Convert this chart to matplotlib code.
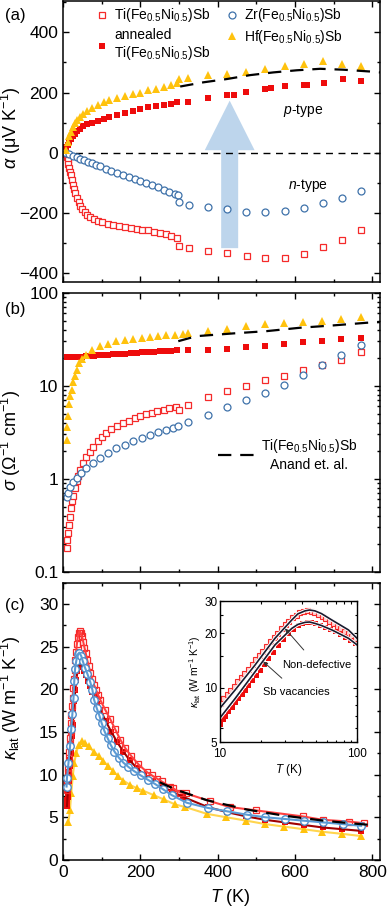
import numpy as np
import matplotlib
matplotlib.use("Agg")
import matplotlib.pyplot as plt
from matplotlib.ticker import MultipleLocator, FixedLocator, NullFormatter, LogLocator

plt.rcParams["font.family"] = ["Liberation Sans", "DejaVu Sans"]
plt.rcParams["mathtext.fontset"] = "custom"
plt.rcParams["mathtext.rm"] = "Liberation Sans"
plt.rcParams["mathtext.it"] = "Liberation Sans:italic"
plt.rcParams["mathtext.bf"] = "Liberation Sans:bold"

RED_OPEN = "#f52a2a"
RED = "#ee0c0c"
DARK_RED = "#a00000"
BLUE = "#3f72aa"
BLUE_C = "#4f8cc9"
BLUE_LINE = "#5b9bd5"
YELLOW = "#ffc20e"
YELLOW_LINE = "#ffd54f"

LBL_TI = r"Ti(Fe$_{0.5}$Ni$_{0.5}$)Sb"
LBL_ANN = "annealed\n" + r"Ti(Fe$_{0.5}$Ni$_{0.5}$)Sb"
LBL_ZR = r"Zr(Fe$_{0.5}$Ni$_{0.5}$)Sb"
LBL_HF = r"Hf(Fe$_{0.5}$Ni$_{0.5}$)Sb"

# ---------------- (a) Seebeck coefficient ----------------
a_ti_T = [8, 10, 12, 14, 16, 18, 20, 23, 26, 29, 32, 36, 40, 45, 50, 56, 63, 70, 80, 90,
          100, 115, 130, 145, 160, 175, 190, 205, 220, 235, 250, 265, 280, 295,
          300, 325, 375, 425, 475, 523, 575, 622, 672, 721, 771]
a_ti = [-5, -15, -25, -38, -52, -64, -75, -92, -108, -122, -135, -150, -163, -177, -188, -198,
        -207, -214, -222, -228, -232, -237, -240, -243, -247, -250, -253, -256, -259, -263,
        -267, -272, -277, -284,
        -311, -319, -326, -333, -344, -350, -350, -338, -313, -291, -258]

a_ann_T = [8, 12, 16, 20, 25, 30, 36, 43, 52, 62, 75, 90, 105, 120, 140, 160, 180, 200, 220,
           240, 260, 280, 295,
           324, 374, 424, 443, 474, 523, 537, 575, 622, 631, 674, 723, 771]
a_ann = [18, 25, 35, 45, 55, 63, 72, 80, 88, 94, 100, 106, 112, 118, 126, 133, 140, 146, 151,
         155, 159, 163, 167,
         168, 182, 193, 193, 203, 212, 216, 221, 225, 225, 232, 245, 237]

a_zr_T = [8, 15, 25, 35, 45, 55, 65, 75, 85, 95, 110, 125, 140, 155, 170, 185, 200, 215, 230,
          245, 260, 275, 290, 298,
          300, 325, 374, 424, 474, 523, 575, 622, 672, 721, 771]
a_zr = [-2, -6, -11, -16, -21, -26, -31, -36, -41, -46, -53, -60, -67, -74, -81, -88, -95,
        -102, -109, -116, -123, -130, -137, -141,
        -164, -175, -180, -188, -197, -199, -195, -184, -167, -150, -128]

a_hf_T = [8, 12, 16, 20, 25, 30, 36, 43, 52, 62, 75, 90, 105, 120, 140, 160, 180, 200, 220,
          240, 260, 280, 295,
          300, 324, 374, 424, 474, 523, 575, 622, 672, 722, 771]
a_hf = [10, 35, 55, 70, 85, 97, 108, 118, 128, 138, 148, 158, 167, 174, 181, 188, 194, 200,
        207, 213, 219, 225, 231,
        246, 250, 258, 263, 270, 277, 287, 296, 304, 296, 287]

a_ref_T = [303, 363, 424, 484, 544, 604, 665, 725, 794, 820]
a_ref = [220, 234, 245, 258, 267, 274, 279, 276, 270, 267]

# ---------------- (b) electrical conductivity ----------------
b_ti_T = [9, 11, 13, 15, 17, 20, 23, 26, 30, 35, 39, 45, 52, 60, 70, 78, 90, 100, 112, 125,
          140, 155, 170, 185, 198, 215, 230, 242, 260, 275, 293,
          300, 324, 375, 423, 473, 522, 572, 621, 671, 720, 770]
b_ti = [0.178, 0.22, 0.26, 0.32, 0.39, 0.48, 0.58, 0.66, 0.80, 0.95, 1.06, 1.25, 1.47, 1.70,
        1.95, 2.22, 2.55, 2.80, 3.1, 3.4, 3.7, 3.97, 4.2, 4.47, 4.68, 4.92, 5.13, 5.3, 5.5,
        5.7, 5.9,
        5.5, 6.25, 7.6, 8.85, 10.0, 11.4, 12.6, 14.7, 16.9, 19.1, 22.9]

b_ann_T = [9, 20, 30, 40, 50, 60, 70, 80, 90, 100, 115, 130, 145, 160, 175, 190, 205, 220,
           235, 250, 265, 280, 295,
           324, 375, 423, 473, 522, 572, 621, 671, 720, 770]
b_ann = [20.2, 20.3, 20.4, 20.5, 20.6, 20.8, 20.9, 21.0, 21.2, 21.3, 21.5, 21.8, 22.0, 22.2,
         22.4, 22.6, 22.8, 23.0, 23.2, 23.4, 23.6, 23.8, 24.0,
         24.1, 24.5, 25.1, 25.9, 27.0, 28.2, 29.4, 30.1, 31.4, 32.7]

b_zr_T = [9, 12, 17, 25, 35, 47, 60, 77, 95, 115, 138, 160, 181, 203, 224, 245, 267, 285, 298,
          324, 375, 423, 473, 522, 572, 621, 671, 720, 770]
b_zr = [0.63, 0.70, 0.82, 0.93, 1.01, 1.15, 1.30, 1.48, 1.66, 1.88, 2.13, 2.33, 2.52, 2.75,
        2.97, 3.17, 3.37, 3.52, 3.66,
        4.04, 4.88, 5.9, 6.96, 8.36, 10.3, 12.9, 16.9, 21.6, 27.7]

b_hf_T = [9, 11, 13, 16, 19, 22, 26, 30, 35, 42, 50, 60, 75, 95, 115, 138, 160, 181, 205, 224,
          245, 267, 290, 310,
          324, 375, 423, 473, 522, 572, 621, 671, 720, 770]
b_hf = [2.6, 3.6, 4.7, 6.3, 7.8, 9.1, 11.0, 12.7, 14.9, 17.4, 19.6, 21.6, 24.2, 26.6, 28.4,
        30.1, 31.0, 31.9, 32.6, 33.2, 33.9, 34.7, 35.3, 35.8,
        36.5, 38.6, 40.9, 43.8, 45.6, 47.5, 48.6, 49.5, 51.6, 55.1]

b_ref_T = [298, 345, 440, 526, 613, 699, 785, 820]
b_ref = [30.1, 34.1, 36.5, 38.6, 42.0, 44.5, 47.5, 48.3]

# ---------------- (c) lattice thermal conductivity ----------------
c_ti_T = [10.0, 10.6, 11.2, 11.9, 12.6, 13.4, 14.2, 15.0, 16.0, 17.0, 18.0, 19.2, 20.4, 21.7,
          23.1, 24.6, 26.2, 27.9, 29.7, 31.6, 33.6, 35.7, 38.0, 40.5, 43.1, 45.9, 48.8, 52.0,
          55.3, 58.8, 62.6, 66.6, 70.9, 75.5, 80.3, 85.5, 91.0, 96.8,
          109, 122, 135, 148, 161, 176, 195, 217, 230, 244, 255, 277, 284, 303, 318, 379,
          431, 500, 620, 672, 739, 778]
c_ti = [8.2, 8.7, 9.2, 9.7, 10.2, 10.8, 11.4, 12.0, 12.7, 13.5, 14.3, 15.1, 16.0, 17.0, 18.0,
        19.0, 20.1, 21.2, 22.3, 23.4, 24.4, 25.3, 26.1, 26.6, 26.8, 26.6, 26.2, 25.6, 24.9,
        24.2, 23.4, 22.7, 21.9, 21.2, 20.5, 19.9, 19.3, 18.7,
        17.6, 16.5, 15.3, 14.1, 13.1, 12.2, 11.2, 10.3, 9.9, 9.5, 9.2, 8.6, 8.4, 7.9, 7.8, 6.9,
        6.2, 5.8, 5.1, 4.7, 4.5, 4.3]

c_ann_T = [10.0, 10.5, 10.9, 11.5, 12.2, 12.9, 13.6, 14.4, 15.2, 16.1, 17.0, 18.2, 19.6, 21.0,
           22.5, 24.5, 26.7, 29.0, 31.6, 34.3, 37.3, 40.0, 42.9, 46.0, 49.3, 53.5, 58.3,
           63.5, 69.0, 75.0, 81.6, 89.0, 96.6,
           110, 125, 140, 156, 172, 190, 210, 232, 256, 282, 310, 374, 424, 474, 523, 573,
           622, 672, 722, 771]
c_ann = [6.3, 6.7, 7.0, 7.4, 7.8, 8.3, 8.7, 9.2, 9.7, 10.3, 11.0, 11.7, 12.5, 13.5, 14.5,
         15.8, 17.2, 18.6, 19.9, 21.1, 22.2, 22.8, 23.1, 23.0, 22.6, 22.2, 21.7, 21.0, 20.4,
         19.7, 19.1, 18.3, 17.6,
         16.3, 15.0, 13.8, 12.7, 11.7, 10.8, 10.0, 9.3, 8.6, 8.0, 7.4, 6.2, 5.6, 5.1, 4.7,
         4.4, 4.1, 3.8, 3.6, 3.4]

c_zr_T = [9, 10, 14, 18, 21, 24, 27, 29, 31, 34, 38, 42, 47, 51, 57, 63, 70, 76, 80, 87, 94,
          100, 107, 115, 123, 133, 144, 156, 169, 184, 201, 219, 238, 258, 281, 320, 374,
          424, 476, 523, 573, 622, 672, 723, 771]
c_zr = [8.6, 9.6, 11.4, 13.3, 15.3, 17.1, 19.0, 21.0, 22.4, 23.3, 24.1, 24.3, 23.9, 23.3,
        22.5, 21.8, 20.9, 19.9, 18.8, 17.8, 16.9, 16.0, 15.1, 14.3, 13.5, 12.7, 12.0, 11.4,
        10.9, 10.4, 9.9, 9.4, 8.9, 8.3, 7.6, 6.7, 6.1, 5.7, 5.3, 5.0, 4.8, 4.6, 4.4, 4.2, 4.0]

c_hf_T = [14, 18, 21, 25, 29, 34, 40, 48, 57, 66, 79, 92, 104, 117, 130, 143, 156, 173, 191,
          208, 234, 260, 290, 316, 372, 422, 474, 523, 572, 622, 671, 721, 771]
c_hf = [4.5, 5.9, 7.8, 9.8, 11.4, 12.5, 13.5, 13.9, 13.7, 13.3, 12.7, 12.2, 11.6, 11.0, 10.4,
        9.8, 9.3, 8.8, 8.4, 8.1, 7.6, 7.1, 6.5, 6.2, 5.4, 5.0, 4.6, 4.2, 3.9, 3.6, 3.3, 3.06, 2.8]

c_ref_T = [250, 294, 372, 476, 570, 674, 743, 795]
c_ref = [9.1, 8.2, 7.0, 5.9, 5.2, 4.6, 4.3, 4.1]

# inset model curves
ins_T = [10, 12.9, 18, 25.2, 33.4, 37, 41.7, 45, 49.3, 55, 65.5, 86.6, 100]
ins_nondef = [7.7, 9.7, 13.3, 18.7, 23.6, 25.5, 26.5, 26.8, 26.5, 25.6, 23.6, 20.8, 18.7]
ins_vac = [6.8, 8.7, 12.2, 17.2, 21.2, 22.3, 22.9, 23.0, 22.6, 22.0, 20.8, 18.7, 17.2]

TICK_FS = 12.5
LAB_FS = 13


def style_axis(ax, labels_x=False):
    ax.set_xlim(0, 820)
    ax.xaxis.set_major_locator(MultipleLocator(200))
    ax.xaxis.set_minor_locator(MultipleLocator(100))
    ax.tick_params(which="both", direction="in", top=True, right=True, width=1.0)
    ax.tick_params(which="major", length=4.5, labelsize=TICK_FS)
    ax.tick_params(which="minor", length=2.5)
    if not labels_x:
        ax.tick_params(axis="x", labelbottom=False)
    for s in ax.spines.values():
        s.set_linewidth(1.1)


fig = plt.figure(figsize=(3.87, 9.09), dpi=100)
ax_a = fig.add_axes([0.163, 0.690, 0.819, 0.309])
ax_b = fig.add_axes([0.163, 0.371, 0.819, 0.307])
ax_c = fig.add_axes([0.163, 0.054, 0.819, 0.305])

# ---- (a)
ax_a.arrow(431, -318, 0, 491, width=44, head_width=129, head_length=165,
           length_includes_head=True, color="#bdd5ec", lw=0, zorder=0.5)
ax_a.axhline(0, color="black", lw=1.0, dashes=(5, 4), zorder=1)
ax_a.plot(a_ti_T, a_ti, "s", ms=4.3, mfc="white", mec=RED_OPEN, mew=0.9, label=LBL_TI)
ax_a.plot(a_ann_T, a_ann, "s", ms=4.3, color=RED, mew=0, label=LBL_ANN)
ax_a.plot(a_zr_T, a_zr, "o", ms=5.0, mfc="white", mec=BLUE, mew=0.9, label=LBL_ZR)
ax_a.plot(a_hf_T, a_hf, "^", ms=5.6, color=YELLOW, mew=0, label=LBL_HF)
ax_a.plot(a_ref_T, a_ref, color="black", lw=1.6, dashes=(6, 4))
ax_a.set_ylim(-430, 505)
ax_a.yaxis.set_major_locator(MultipleLocator(200))
ax_a.yaxis.set_minor_locator(MultipleLocator(100))
style_axis(ax_a)
ax_a.set_ylabel(r"$\alpha$ (μV K$^{-1}$)", fontsize=LAB_FS)
ax_a.yaxis.set_label_coords(-0.125, 0.55)
ax_a.text(621, 140, r"$p$-type", fontsize=10, ha="center", va="center")
ax_a.text(634, -108, r"$n$-type", fontsize=10, ha="center", va="center")
ax_a.legend(ncol=2, loc="upper left", bbox_to_anchor=(0.07, 1.015), frameon=False,
            fontsize=10, handlelength=1.0, handletextpad=0.4, columnspacing=1.0,
            labelspacing=0.25, borderpad=0.2)

# ---- (b)
ax_b.plot(b_ti_T, b_ti, "s", ms=4.3, mfc="white", mec=RED_OPEN, mew=0.9)
ax_b.plot(b_ann_T, b_ann, "s", ms=4.3, color=RED, mew=0)
ax_b.plot(b_zr_T, b_zr, "o", ms=5.0, mfc="white", mec=BLUE, mew=0.9)
ax_b.plot(b_hf_T, b_hf, "^", ms=5.6, color=YELLOW, mew=0)
ax_b.plot(b_ref_T, b_ref, color="black", lw=1.6, dashes=(6, 4),
          label=LBL_TI + "\nAnand et. al.")
ax_b.set_yscale("log")
ax_b.set_ylim(0.1, 100)
ax_b.yaxis.set_major_locator(FixedLocator([0.1, 1, 10, 100]))
ax_b.set_yticklabels(["0.1", "1", "10", "100"])
ax_b.yaxis.set_minor_locator(LogLocator(base=10, subs=np.arange(2, 10)))
ax_b.yaxis.set_minor_formatter(NullFormatter())
style_axis(ax_b)
ax_b.set_ylabel(r"$\sigma$ (Ω$^{-1}$ cm$^{-1}$)", fontsize=LAB_FS)
ax_b.yaxis.set_label_coords(-0.125, 0.47)
leg_b = ax_b.legend(loc="center left", bbox_to_anchor=(0.45, 0.42), frameon=False,
                    fontsize=10, handlelength=2.6, handletextpad=0.5)
for t in leg_b.get_texts():
    t.set_multialignment("center")

# ---- (c)
ax_c.plot(c_ref_T, c_ref, color="black", lw=1.6, dashes=(6, 4), zorder=4)
ax_c.plot(c_hf_T, c_hf, "-", color=YELLOW_LINE, lw=1.5, zorder=2)
ax_c.plot(c_hf_T, c_hf, "^", ms=5.6, color=YELLOW, mew=0, zorder=2)
ax_c.plot(c_ann_T, c_ann, "s", ms=4.3, color=RED, mew=0, zorder=2)
ax_c.plot(c_ann_T, c_ann, "-", color=DARK_RED, lw=1.5, zorder=2)
ax_c.plot(c_ti_T, c_ti, "s", ms=5.0, mfc="none", mec=RED_OPEN, mew=0.9, zorder=3)
ax_c.plot(c_ti_T, c_ti, "-", color="#ff4040", lw=1.5, zorder=3)
ax_c.plot(c_zr_T, c_zr, "o", ms=5.4, mfc="white", mec=BLUE_C, mew=1.0, zorder=3)
ax_c.plot(c_zr_T, c_zr, "-", color=BLUE_LINE, lw=1.5, zorder=3)
ax_c.set_ylim(0, 32.5)
ax_c.yaxis.set_major_locator(MultipleLocator(5))
ax_c.yaxis.set_minor_locator(MultipleLocator(2.5))
style_axis(ax_c, labels_x=True)
ax_c.set_ylabel(r"$\kappa_{\rm lat}$ (W m$^{-1}$ K$^{-1}$)", fontsize=LAB_FS)
ax_c.yaxis.set_label_coords(-0.125, 0.585)
ax_c.set_xlabel(r"$T$ (K)", fontsize=LAB_FS)
ax_c.xaxis.set_label_coords(0.527, -0.098)

# panel letters
fig.text(0.013, 0.983, "(a)", fontsize=12, va="center")
fig.text(0.013, 0.659, "(b)", fontsize=12, va="center")
fig.text(0.013, 0.334, "(c)", fontsize=12, va="center")

# ---- inset
ax_in = fig.add_axes([0.5685, 0.1837, 0.354, 0.155])
ax_in.plot(c_ti_T, c_ti, "s", ms=3.6, mfc="#ffd0d0", mec=RED_OPEN, mew=0.8)
ax_in.plot(c_ann_T, c_ann, "s", ms=3.6, color=RED, mew=0)
ax_in.plot(ins_T, ins_nondef, color="white", lw=2.6)
ax_in.plot(ins_T, ins_nondef, color="#1a1a2e", lw=1.2)
ax_in.plot(ins_T, ins_vac, color="white", lw=2.6)
ax_in.plot(ins_T, ins_vac, color="#1a1a2e", lw=1.2)
ax_in.set_xscale("log")
ax_in.set_yscale("log")
ax_in.set_xlim(10, 100)
ax_in.set_ylim(5, 30)
ax_in.xaxis.set_major_locator(FixedLocator([10, 100]))
ax_in.set_xticklabels(["10", "100"])
ax_in.xaxis.set_minor_locator(LogLocator(base=10, subs=np.arange(2, 10)))
ax_in.xaxis.set_minor_formatter(NullFormatter())
ax_in.yaxis.set_major_locator(FixedLocator([5, 10, 20, 30]))
ax_in.set_yticklabels(["5", "10", "20", "30"])
ax_in.yaxis.set_minor_locator(FixedLocator([6, 7, 8, 9, 15, 25]))
ax_in.yaxis.set_minor_formatter(NullFormatter())
ax_in.tick_params(which="both", direction="in", top=True, right=True, width=0.8)
ax_in.tick_params(which="major", length=3, labelsize=8.5, pad=2)
ax_in.tick_params(axis="x", which="major", pad=4)
ax_in.tick_params(which="minor", length=1.8)
for s in ax_in.spines.values():
    s.set_linewidth(1.0)
ax_in.set_xlabel(r"$T$ (K)", fontsize=8.5, labelpad=2)
ax_in.set_ylabel(r"$\kappa_{\rm lat}$ (W m$^{-1}$ K$^{-1}$)", fontsize=7.5, labelpad=1)
ax_in.annotate("Non-defective", xy=(29.8, 21.2), xytext=(51, 13.3), fontsize=8,
               ha="center", va="center",
               arrowprops=dict(arrowstyle="-|>", color="#333333", lw=0.7,
                               mutation_scale=6, shrinkA=7, shrinkB=0))
ax_in.annotate("Sb vacancies", xy=(20.7, 13.9), xytext=(36.3, 9.5), fontsize=8,
               ha="center", va="center",
               arrowprops=dict(arrowstyle="-|>", color="#333333", lw=0.7,
                               mutation_scale=6, shrinkA=6, shrinkB=0))

fig.savefig("out.png", dpi=100)
